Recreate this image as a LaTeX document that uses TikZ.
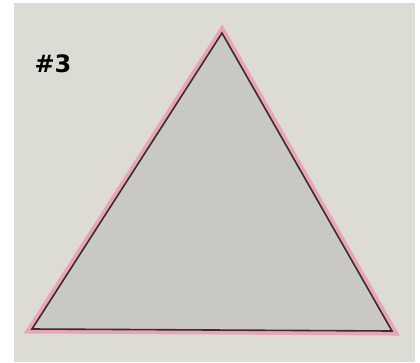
\documentclass[tikz,border=0pt]{standalone}
\usepackage{fontspec}
\setsansfont{DejaVu Sans}
\usetikzlibrary{positioning}
\definecolor{paper}{HTML}{DCDCD5}
\definecolor{shade}{HTML}{C9C9C3}
\definecolor{ink}{HTML}{3A2C30}
\definecolor{rim}{HTML}{E8A6B4}

\begin{document}
\begin{tikzpicture}[x=1pt, y=-1pt,
    every node/.style={font=\sffamily\bfseries},
    sheet/.style={fill=paper, draw=none},
    rimline/.style={draw=rim, line width=9pt, line join=miter},
    body/.style={fill=shade, draw=ink, line width=1.6pt, line join=miter},
    tag/.style={font=\sffamily\bfseries\fontsize{24}{28}\selectfont, text=black, inner sep=0pt}
]
\useasboundingbox[fill=white] (0,0) rectangle (420,362);
% Paper
\fill[sheet] (14,3) rectangle (415,362);

% Corners
\coordinate (top)   at (222,33);
\coordinate (left)  at (32,329);
\coordinate (right) at (392,331);

% Triangle
\draw[rimline] (top) -- (left) -- (right) -- cycle;
\draw[body] (top) -- (left) -- (right) -- cycle;

% Label
\node[tag] (num) at (53,63.5) {\#3};
\end{tikzpicture}
\end{document}
